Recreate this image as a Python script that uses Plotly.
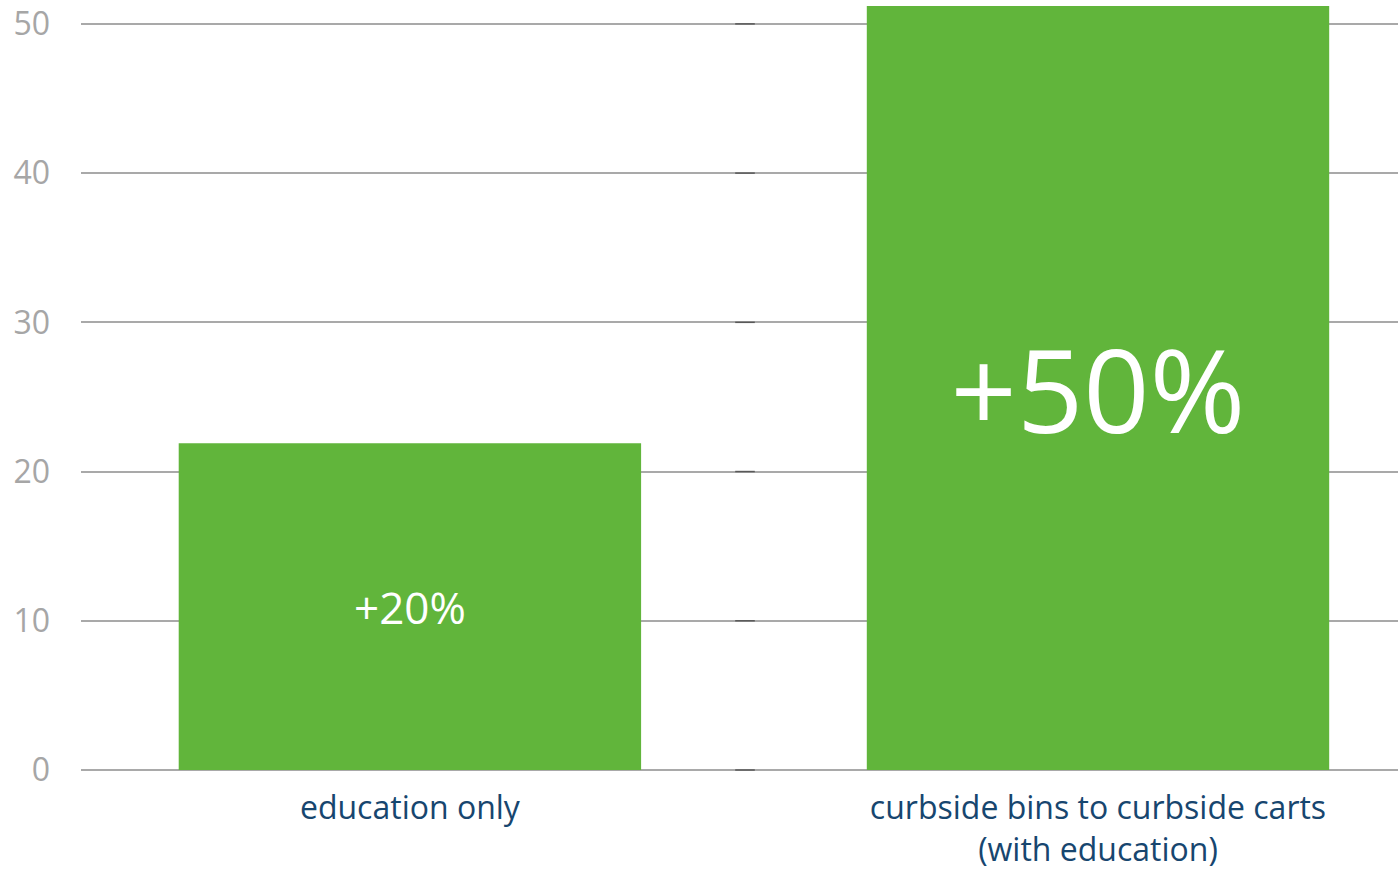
import plotly.graph_objects as go

categories = ["education only", "curbside bins to curbside carts<br>(with education)"]
values = [21.9, 51.2]
bar_labels = ["+20%", "+50%"]
label_sizes = [44, 116]
y_ticks = [0, 10, 20, 30, 40, 50]

x_pos = list(range(len(categories)))
divider_x = 0.487

fig = go.Figure()
fig.add_trace(go.Bar(
    x=x_pos, y=values, width=0.672,
    marker=dict(color="#61B53B", line=dict(width=0)),
    text=bar_labels, textposition="inside", insidetextanchor="middle",
    textangle=0,
    textfont=dict(family="Open Sans", color="white", size=label_sizes),
    hoverinfo="skip",
))
fig.add_trace(go.Scatter(
    x=[divider_x] * len(y_ticks), y=y_ticks, mode="markers",
    marker=dict(symbol="line-ew", size=14, line=dict(width=1.5, color="#595959")),
    cliponaxis=False, hoverinfo="skip",
))

fig.update_layout(
    width=1398, height=872,
    margin=dict(l=81, r=0, t=0, b=102),
    plot_bgcolor="white", paper_bgcolor="white",
    showlegend=False,
    xaxis=dict(
        range=[-0.478, 1.436], tickvals=x_pos, ticktext=categories,
        showgrid=False, zeroline=False, showline=False, ticks="",
        tickfont=dict(family="Open Sans", size=32, color="#17466F"),
        ticklabelstandoff=16,
    ),
    yaxis=dict(
        range=[0, 51.6], tickvals=y_ticks,
        showgrid=True, gridcolor="#A9A9A9", gridwidth=2,
        zeroline=True, zerolinecolor="#A9A9A9", zerolinewidth=2,
        showline=False, ticks="",
        tickfont=dict(family="Open Sans", size=32, color="#A6A6A6"),
        ticklabelstandoff=30,
    ),
)

fig.write_html(
    "out.html",
    config={"displayModeBar": False},
    post_script="document.body.style.margin='0px';document.body.style.overflow='hidden';",
)
